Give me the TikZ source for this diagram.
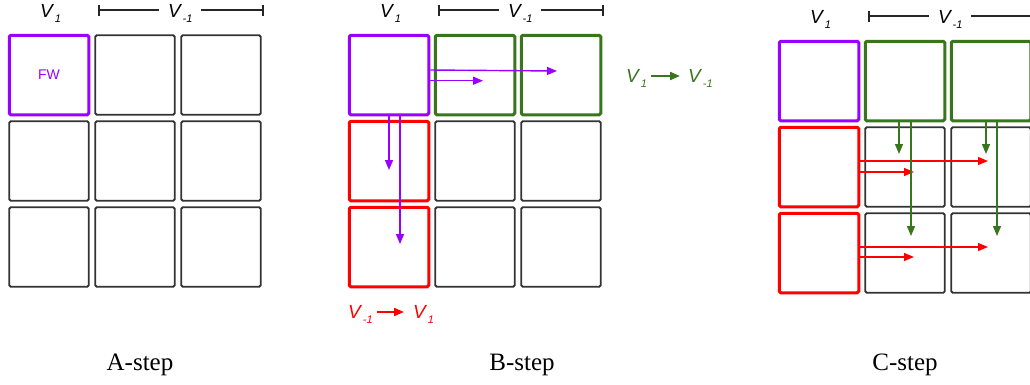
\documentclass[tikz,border=0pt]{standalone}
\usepackage{fontspec}
\setmainfont{Liberation Serif}
\setsansfont{Liberation Sans}
\usetikzlibrary{arrows.meta,calc}
\definecolor{cpur}{HTML}{9900FF}
\definecolor{cgrn}{HTML}{38761D}
\definecolor{cred}{HTML}{FF0000}
\definecolor{cbox}{HTML}{333333}
\newcommand{\Vs}[1]{{\sffamily\itshape\fontsize{19}{19}\selectfont V\kern2pt\raisebox{-5.5pt}{\fontsize{11}{11}\selectfont #1}}}
\newcommand{\mypanel}[3]{%
  \foreach \r in {0,1,2}{\foreach \c in {0,1,2}{
    \node[cell, c#1\r\c/.try] (#1\r\c) at ({#2+49+86*\c},{#3+75+86*\r}) {};}}
  \node[vlab] (#1v1) at (#2+40,#3+17) {\Vs{1}};
  \coordinate (#1bl) at (#2+99,#3+10);
  \coordinate (#1br) at (#2+263,#3+10);
  \node[vlab,outer xsep=9pt] (#1vm) at (#2+159,#3+17) {\Vs{-1}};
  \draw[brk] (#1bl) -- (#1bl -| #1vm.west);
  \draw[brk] (#1vm.east |- #1br) -- (#1br);
  \draw[brk] ($(#1bl)+(0,-5.5)$) -- ($(#1bl)+(0,5.5)$);
  \draw[brk] ($(#1br)+(0,-5.5)$) -- ($(#1br)+(0,5.5)$);
}
\begin{document}
\begin{tikzpicture}[x=1pt,y=-1pt,
  cell/.style={draw=cbox,line width=1.8pt,rounded corners=1.5pt,minimum size=79.5pt,inner sep=0pt},
  pur/.style={draw=cpur,line width=3pt},
  grn/.style={draw=cgrn,line width=3pt},
  redb/.style={draw=cred,line width=3pt},
  cA00/.style={pur},
  cB00/.style={pur}, cB01/.style={grn}, cB02/.style={grn}, cB10/.style={redb}, cB20/.style={redb},
  cC00/.style={pur}, cC01/.style={grn}, cC02/.style={grn}, cC10/.style={redb}, cC20/.style={redb},
  vlab/.style={inner sep=0pt,anchor=base west},
  brk/.style={draw=black!85,line width=1.3pt},
  arr/.style={-{Triangle[length=10pt,width=8pt]},line width=1.4pt},
  steplab/.style={anchor=base,font=\fontsize{25}{25}\selectfont,inner sep=0pt}
]
\useasboundingbox (0,0) rectangle (1030,384);
\clip (0,0) rectangle (1030,384);

\mypanel{A}{0}{0}
\mypanel{B}{340}{0}
\mypanel{C}{770}{6}

\node[text=cpur,font=\sffamily\fontsize{14}{14}\selectfont] (fw) at (A00) {FW};

% B-step arrows
\draw[arr,cpur] ([yshift=5pt]B00.east) -- ($(B02.center)+(-4,-4)$);
\draw[arr,cpur] ([yshift=-5.7pt]B00.east) -- ($(B01.center)+(8,5.7)$);
\draw[arr,cpur] (B00.south) -- ($(B10.center)+(0,9)$);
\draw[arr,cpur] ([xshift=11pt]B00.south) -- ($(B20.center)+(11,-3)$);

% B-step legends
\node[vlab,text=cgrn] (g1) at (626,82) {\Vs{1}};
\node[vlab,text=cgrn] (g2) at (688,82) {\Vs{-1}};
\draw[arr,cgrn,line width=2pt] ($(g1.base east)+(4,-6)$) -- ($(g2.base west)+(-8,-6)$);
\node[vlab,text=cred] (r1) at (348,318) {\Vs{-1}};
\node[vlab,text=cred] (r2) at (413,318) {\Vs{1}};
\draw[arr,cred,line width=2pt] ($(r1.base east)+(4,-6)$) -- ($(r2.base west)+(-9,-6)$);

% C-step arrows
\draw[arr,cred] ([yshift=6pt]C10.east) -- ($(C12.center)+(-3,-6)$);
\draw[arr,cred] ([yshift=-5pt]C10.east) -- ($(C11.center)+(9,5)$);
\draw[arr,cred] ([yshift=6pt]C20.east) -- ($(C22.center)+(-3,-6)$);
\draw[arr,cred] ([yshift=-4pt]C20.east) -- ($(C21.center)+(9,4)$);
\draw[arr,cgrn] ([xshift=-6pt]C01.south) -- ($(C11.center)+(-6,-13)$);
\draw[arr,cgrn] ([xshift=6pt]C01.south) -- ($(C21.center)+(6,-17)$);
\draw[arr,cgrn] ([xshift=-5pt]C02.south) -- ($(C12.center)+(-5,-13)$);
\draw[arr,cgrn] ([xshift=6pt]C02.south) -- ($(C22.center)+(6,-17)$);

% step labels
\node[steplab] (sa) at (140,370) {A-step};
\node[steplab] (sb) at (522,370) {B-step};
\node[steplab] (sc) at (905,370) {C-step};
\end{tikzpicture}
\end{document}
